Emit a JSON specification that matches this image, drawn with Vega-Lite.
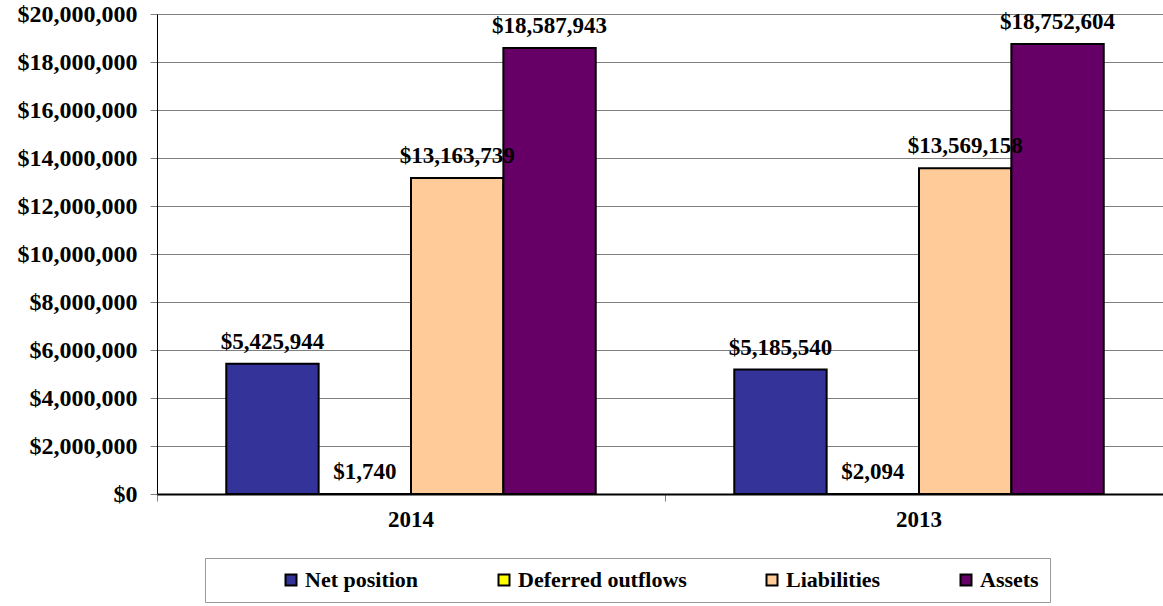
{
  "$schema": "https://vega.github.io/schema/vega-lite/v6.json",
  "autosize": {"type": "none"},
  "width": 1006,
  "height": 480,
  "padding": {"left": 157, "top": 14, "right": 0, "bottom": 112},
  "background": "white",
  "config": {
    "view": {"stroke": null},
    "font": "Liberation Serif"
  },
  "data": {
    "values": [
      {"year": "2014", "category": "Net position", "value": 5425944},
      {"year": "2014", "category": "Deferred outflows", "value": 1740},
      {"year": "2014", "category": "Liabilities", "value": 13163739},
      {"year": "2014", "category": "Assets", "value": 18587943},
      {"year": "2013", "category": "Net position", "value": 5185540},
      {"year": "2013", "category": "Deferred outflows", "value": 2094},
      {"year": "2013", "category": "Liabilities", "value": 13569158},
      {"year": "2013", "category": "Assets", "value": 18752604}
    ]
  },
  "encoding": {
    "x": {
      "field": "year",
      "type": "nominal",
      "sort": null,
      "scale": {"range": [0, 1016], "paddingInner": 0, "paddingOuter": 0},
      "axis": {
        "title": null,
        "labelAngle": 0,
        "labelFont": "Liberation Serif",
        "labelFontWeight": "bold",
        "labelFontSize": 23,
        "labelColor": "black",
        "labelPadding": 7,
        "bandPosition": 0,
        "tickSize": 7,
        "tickColor": "#808080",
        "domainColor": "black",
        "domainWidth": 2,
        "grid": false
      }
    },
    "xOffset": {
      "field": "category",
      "type": "nominal",
      "sort": ["Net position", "Deferred outflows", "Liabilities", "Assets"],
      "scale": {"paddingInner": 0, "paddingOuter": 0.75}
    },
    "y": {
      "field": "value",
      "type": "quantitative",
      "scale": {"domain": [0, 20000000], "nice": false},
      "axis": {
        "title": null,
        "values": [0, 2000000, 4000000, 6000000, 8000000, 10000000, 12000000, 14000000, 16000000, 18000000, 20000000],
        "format": "$,.0f",
        "labelFont": "Liberation Serif",
        "labelFontWeight": "bold",
        "labelFontSize": 24,
        "labelColor": "black",
        "labelPadding": 13,
        "tickSize": 7,
        "tickColor": "#808080",
        "domainColor": "black",
        "gridColor": "#808080",
        "gridWidth": 1,
        "gridOpacity": 1
      }
    }
  },
  "layer": [
    {
      "mark": {"type": "bar", "stroke": "black", "strokeWidth": 2},
      "encoding": {
        "color": {
          "field": "category",
          "type": "nominal",
          "scale": {
            "domain": ["Net position", "Deferred outflows", "Liabilities", "Assets"],
            "range": ["#333399", "#FFFF00", "#FFCC99", "#660066"]
          },
          "legend": {
            "title": null,
            "orient": "none",
            "legendX": 48,
            "legendY": 544,
            "direction": "horizontal",
            "columns": 4,
            "strokeColor": "#999999",
            "fillColor": "white",
            "padding": 11,
            "symbolType": "square",
            "symbolSize": 121,
            "symbolStrokeColor": "black",
            "symbolStrokeWidth": 2,
            "symbolOpacity": 1,
            "symbolOffset": 64,
            "labelOffset": 3,
            "columnPadding": 10,
            "labelFont": "Liberation Serif",
            "labelFontWeight": "bold",
            "labelFontSize": 22,
            "labelColor": "black",
            "labelLimit": 400
          }
        }
      }
    },
    {
      "mark": {
        "type": "text",
        "baseline": "bottom",
        "dy": -10,
        "font": "Liberation Serif",
        "fontWeight": "bold",
        "fontSize": 23,
        "color": "black"
      },
      "encoding": {
        "text": {"field": "value", "type": "quantitative", "format": "$,.0f"}
      }
    }
  ]
}
